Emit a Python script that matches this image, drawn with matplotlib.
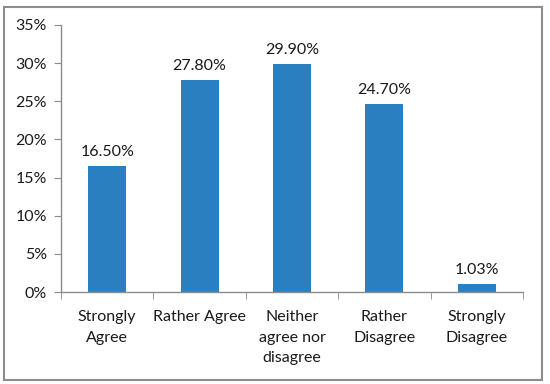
import matplotlib
matplotlib.use("Agg")
import matplotlib.pyplot as plt
from matplotlib.patches import Rectangle
from matplotlib.ticker import FuncFormatter, MultipleLocator

CATS = ["Strongly\nAgree", "Rather Agree", "Neither\nagree nor\ndisagree", "Rather\nDisagree", "Strongly\nDisagree"]
VALS = [16.50, 27.80, 29.90, 24.70, 1.03]
BLUE = "#2A7FC1"
GREY = "#8C8C8C"

plt.rcParams["font.family"] = ["Lato", "DejaVu Sans"]

fig = plt.figure(figsize=(5.5, 3.84), dpi=100)
ax = fig.add_axes([61 / 550, 1 - 292 / 384, (523 - 61) / 550, (292 - 25) / 384])

x = list(range(len(CATS)))
ax.bar(x, VALS, width=0.41, color=BLUE)
for xi, v in zip(x, VALS):
    ax.text(xi, v + 0.9, f"{v:.2f}%", ha="center", va="bottom", fontsize=11.5, color="#1a1a1a")

ax.set_xlim(-0.5, len(CATS) - 0.5)
ax.set_ylim(0, 35)
ax.yaxis.set_major_locator(MultipleLocator(5))
ax.yaxis.set_major_formatter(FuncFormatter(lambda v, _: f"{v:.0f}%"))
ax.set_xticks(x)
ax.set_xticklabels(CATS, fontsize=11.5, color="#1a1a1a", linespacing=1.6)
ax.tick_params(axis="x", length=0, pad=13)
ax.set_xticks([i - 0.5 for i in range(len(CATS) + 1)], minor=True)
ax.tick_params(axis="x", which="minor", length=5, color=GREY, direction="out")
ax.tick_params(axis="y", length=5, color=GREY, labelsize=11.5, labelcolor="#1a1a1a", pad=5)

for s in ["top", "right"]:
    ax.spines[s].set_visible(False)
for s in ["left", "bottom"]:
    ax.spines[s].set_color(GREY)
    ax.spines[s].set_linewidth(1.0)

fig.patches.append(Rectangle((4 / 550, 4 / 384), 538 / 550, 373 / 384, transform=fig.transFigure,
                             fill=False, edgecolor=GREY, linewidth=1.5))

fig.savefig("out.png", dpi=100)
